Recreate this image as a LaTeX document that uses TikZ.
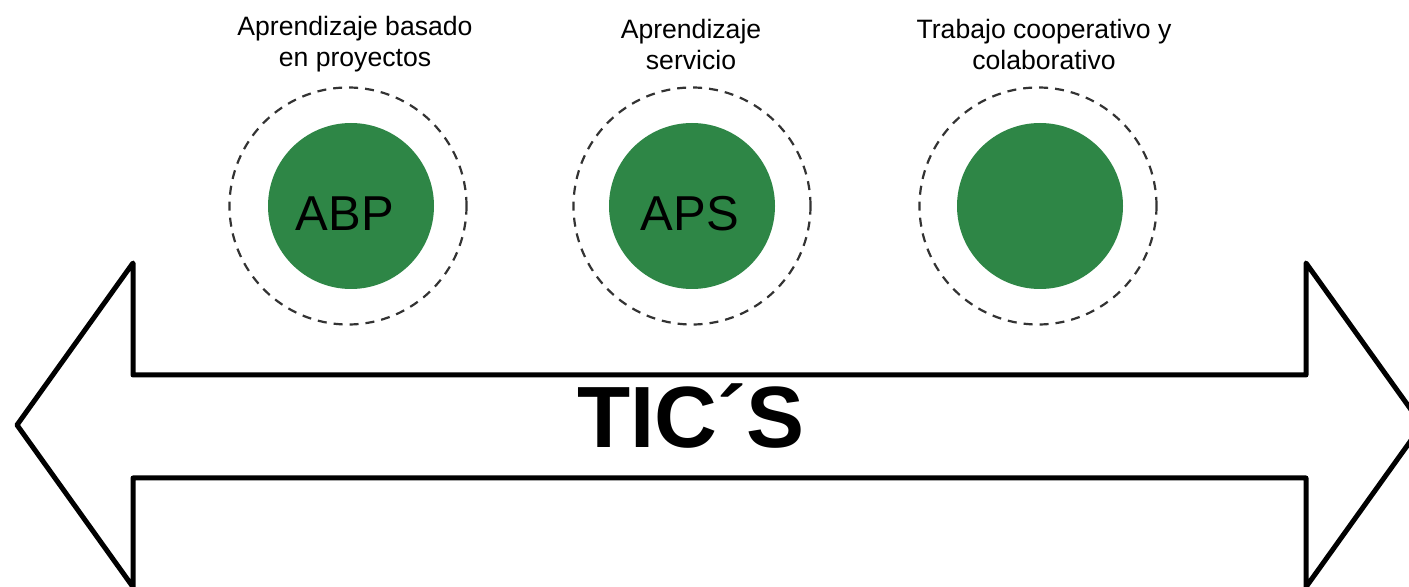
\documentclass[tikz,border=0pt]{standalone}
\usepackage{fontspec}
\setmainfont{Liberation Sans}
\usetikzlibrary{positioning}
\definecolor{metgreen}{RGB}{46,134,70}

\begin{document}
\begin{tikzpicture}[x=0.5pt,y=-0.5pt,
  core/.style={circle,fill=metgreen,minimum size=83pt,inner sep=0pt},
  tag/.style={font=\fontsize{24.5}{28}\selectfont},
  halo/.style={circle,draw=black!80,dash pattern=on 4.5pt off 3.5pt,
    line width=1.1pt,minimum size=118.5pt,inner sep=0pt},
  caption/.style={align=center,font=\fontsize{13.3}{15.5}\selectfont}]
\useasboundingbox (0,0) rectangle (1409,587);

% double arrow
\draw[line width=2.5pt,line join=round]
  (17,425) -- (133,263) -- (133,375) -- (1306,375) -- (1306,263)
  -- (1422,425) -- (1306,587) -- (1306,478) -- (133,478) -- (133,587) -- cycle;
\node[font=\bfseries\fontsize{43.5}{48}\selectfont] (tics) at (691,416) {TIC´S};

% methods
\node[halo] (haloabp) at (348,206) {};
\node[core] (abp) at (351,206) {};
\node[tag] (abptxt) at ([xshift=-3pt,yshift=-4pt]abp.center) {ABP};
\node[halo] (haloaps) at (692,206) {};
\node[core] (aps) at (692,206) {};
\node[tag] (apstxt) at ([xshift=-1pt,yshift=-4pt]aps.center) {APS};
\node[halo] (halotc) at (1038,206) {};
\node[core] (tc) at (1040,206) {};

\node[caption] (lblabp) at (355,44) {Aprendizaje basado\\en proyectos};
\node[caption] (lblaps) at (691,44) {Aprendizaje\\servicio};
\node[caption] (lbltc) at (1044,44) {Trabajo cooperativo y\\colaborativo};
\end{tikzpicture}
\end{document}
